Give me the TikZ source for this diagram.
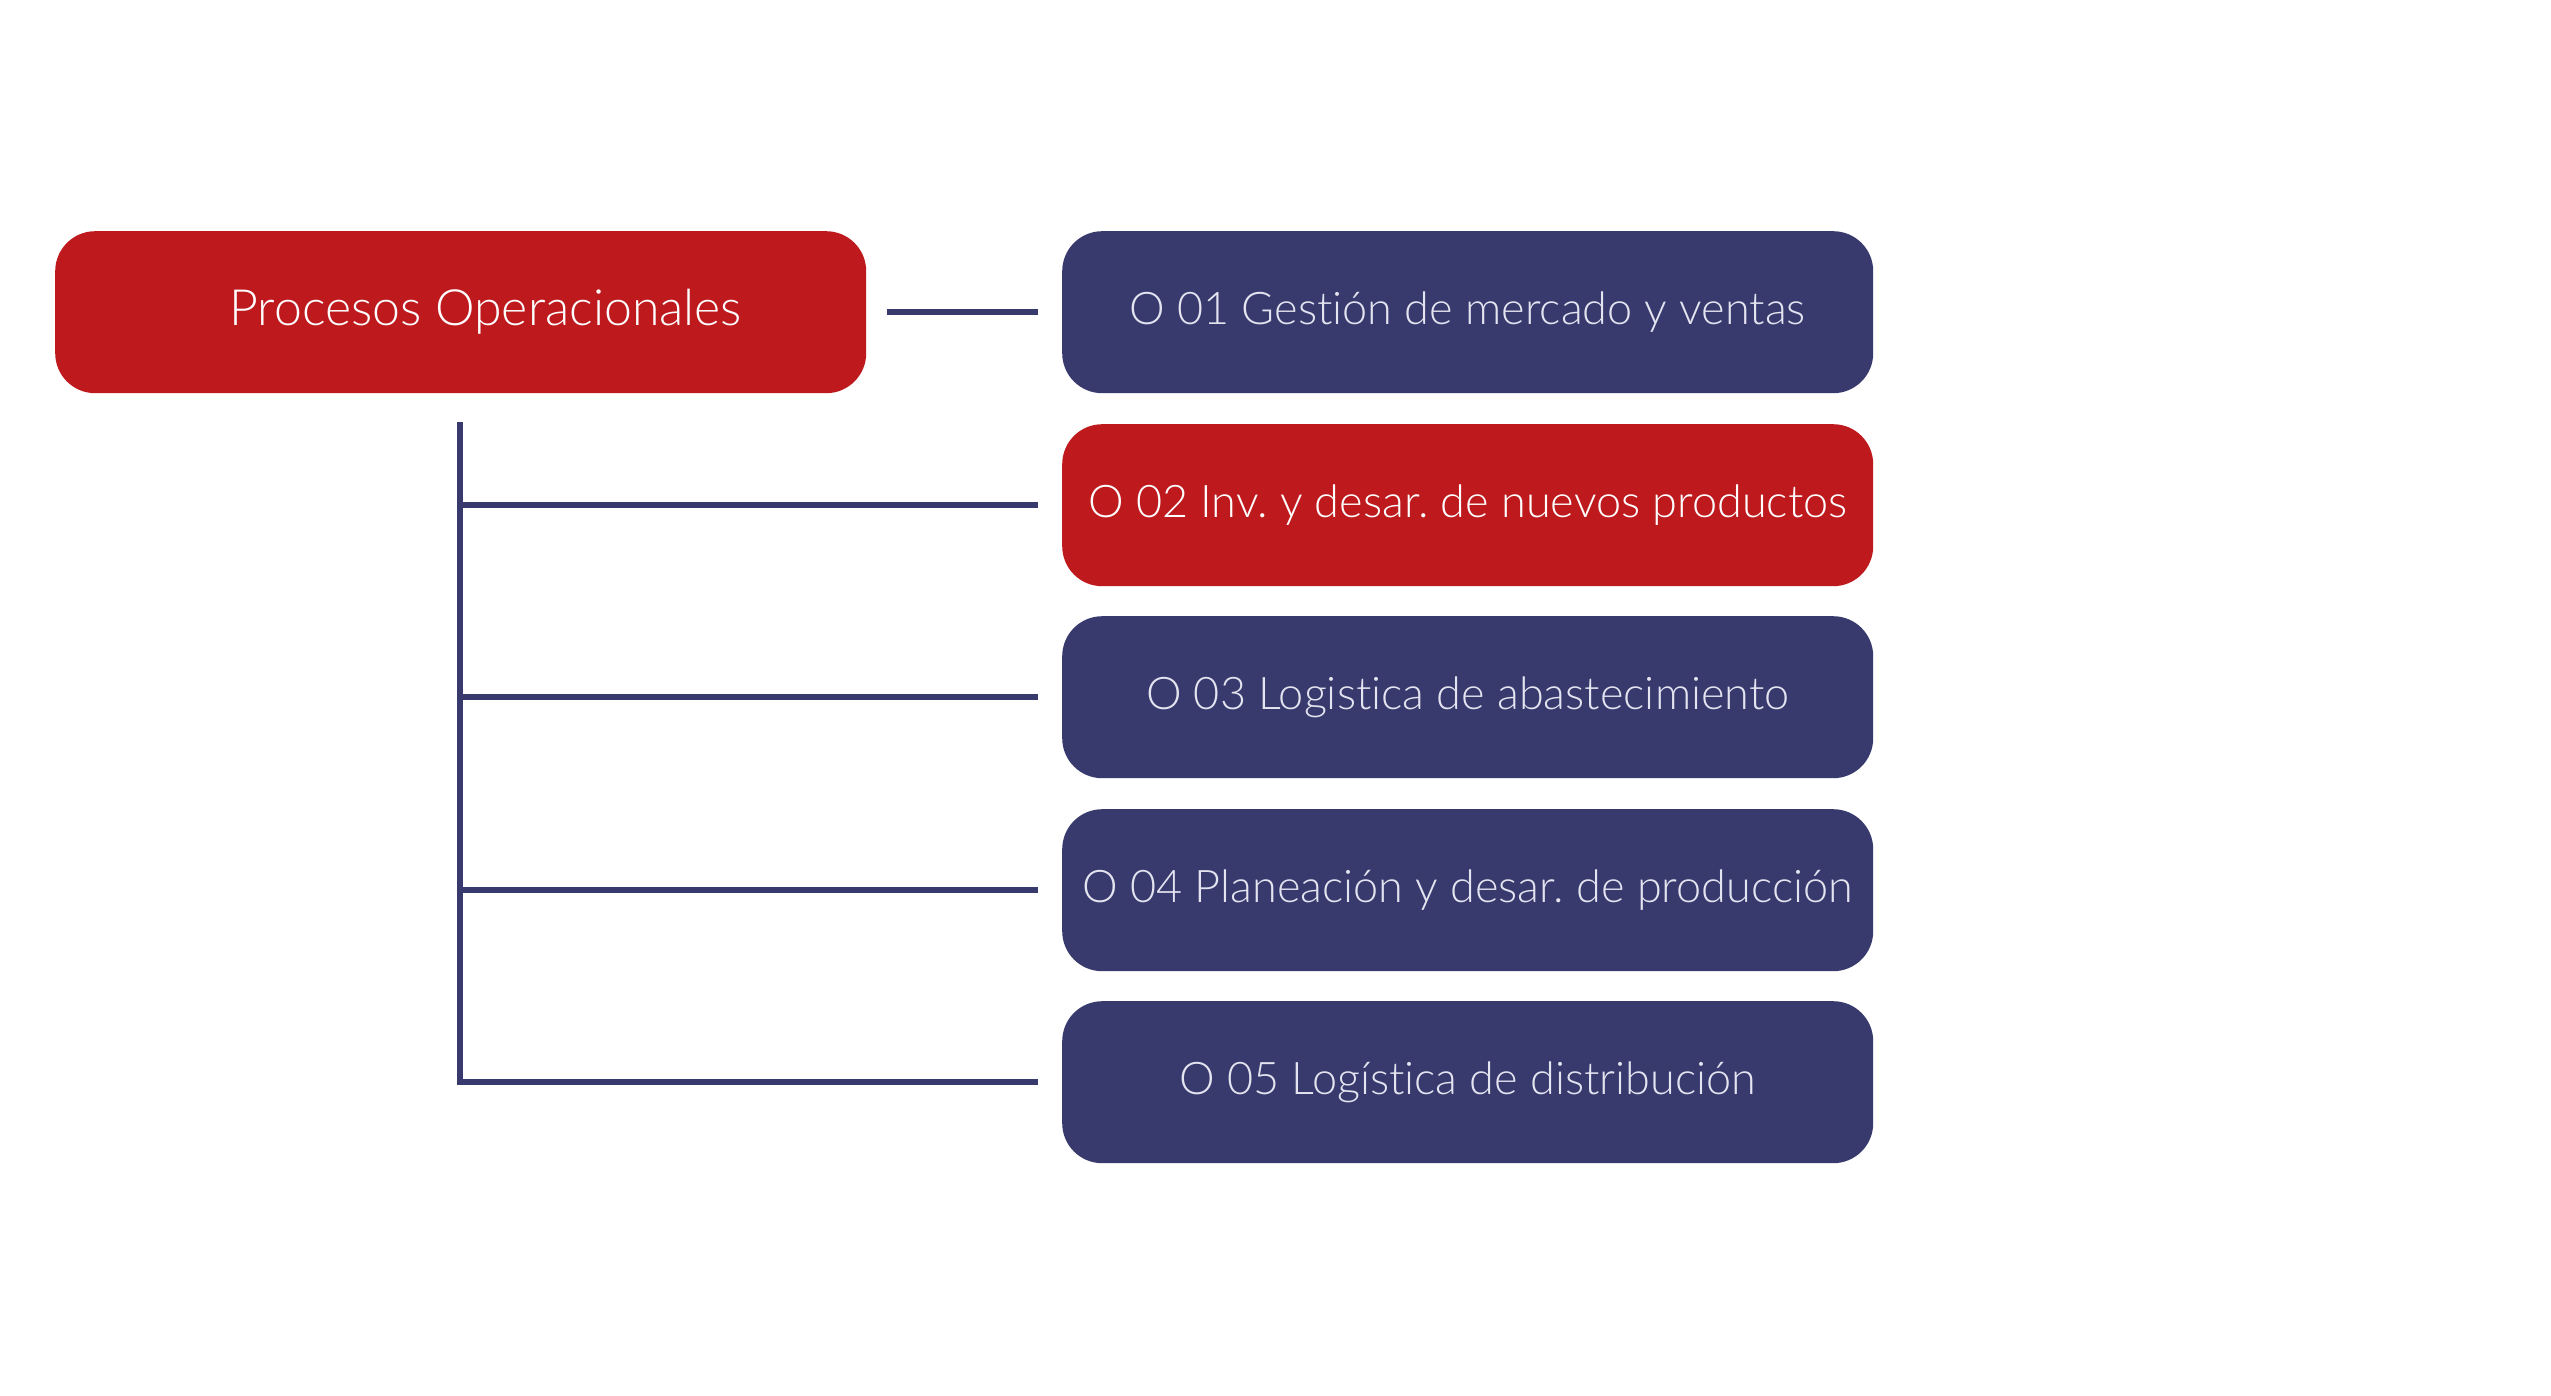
\documentclass[tikz,border=0pt]{standalone}
\usepackage{fontspec}
\setmainfont{Lato Light}[Ligatures={NoCommon}]
\frenchspacing
\definecolor{myred}{HTML}{BE1A1E}
\definecolor{mynavy}{HTML}{383A6E}
\definecolor{lighttxt}{HTML}{E4E4F0}
\begin{document}
\begin{tikzpicture}[x=1pt,y=-1pt,
  box/.style={rounded corners=40pt, minimum width=811pt, minimum height=162pt, inner sep=0pt, anchor=north west, font=\fontsize{45}{52}\selectfont},
  redbox/.style={box, fill=myred, text=white},
  bluebox/.style={box, fill=mynavy, text=lighttxt},
  conn/.style={draw=mynavy, line width=6pt}]
\useasboundingbox (0,0) rectangle (2551,1396);
\node[redbox, font=\fontsize{50}{58}\selectfont] (main) at (55,231) {\hspace*{50pt}Procesos Operacionales};
\node[bluebox] (o1) at (1062,231) {O 01 Gestión de mercado y ventas};
\node[redbox] (o2) at (1062,424) {O 02 Inv. y desar. de nuevos productos};
\node[bluebox] (o3) at (1062,616) {O 03 Logistica de abastecimiento};
\node[bluebox] (o4) at (1062,809) {O 04 Planeación y desar. de producción};
\node[bluebox] (o5) at (1062,1001) {O 05 Logística de distribución};
\coordinate (c1a) at (887,312);
\coordinate (c1b) at (1038,312);
\coordinate (vtop) at (460,425);
\coordinate (vbot) at (460,1082);
\draw[conn] (c1a) -- (c1b);
\draw[conn, line cap=rect] (vtop) -- (vbot);
\draw[conn] (vtop |- o2.west) -- ([xshift=-24pt]o2.west);
\draw[conn] (vtop |- o3.west) -- ([xshift=-24pt]o3.west);
\draw[conn] (vtop |- o4.west) -- ([xshift=-24pt]o4.west);
\draw[conn] ([xshift=-3pt]vtop |- o5.west) -- ([xshift=-24pt]o5.west);
\end{tikzpicture}
\end{document}
